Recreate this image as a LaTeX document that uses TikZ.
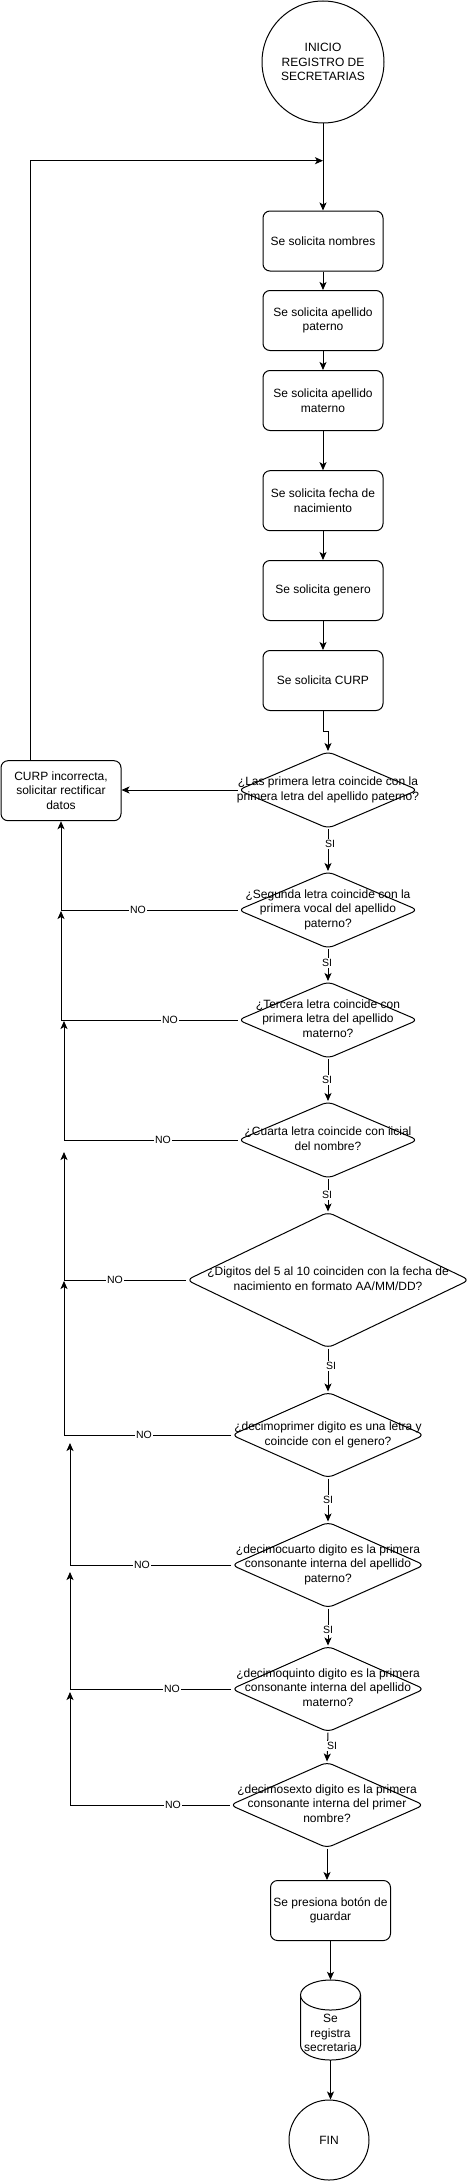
\documentclass[tikz,border=0pt]{standalone}
\usepackage{fontspec}
\setmainfont{Liberation Sans}
\usetikzlibrary{arrows.meta,shapes.geometric}
\begin{document}
\begin{tikzpicture}[x=1pt,y=-1pt,
 every node/.style={font=\fontsize{12}{14.5}\selectfont, text=black},
 box/.style={draw, line width=1pt, rounded corners=7pt, minimum width=120pt, minimum height=60pt, align=center, inner sep=0pt},
 dec/.style={draw, diamond, line width=1pt, rounded corners=6pt, inner sep=0pt},
 term/.style={draw, circle, line width=1pt, align=center, inner sep=0pt},
 lbl/.style={fill=white, inner sep=1pt, font=\fontsize{10.5}{12}\selectfont},
 conn/.style={line width=1pt},
 arr/.style={line width=1pt, -{Stealth[length=8pt,width=7pt,inset=2pt]}},
]
\useasboundingbox (0,0) rectangle (474,2181);
\newcommand{\dtext}[1]{\makebox[0pt]{\begin{tabular}{@{}c@{}}#1\end{tabular}}}

% start and process boxes
\node[term, minimum size=122pt] (ini) at (323,62) {INICIO\\REGISTRO DE\\SECRETARIAS};
\coordinate (jn) at (323,160.7);
\node[box] (b1) at (323,241) {Se solicita nombres};
\node[box] (b2) at (323,320.5) {Se solicita apellido\\paterno};
\node[box] (b3) at (323,400.5) {Se solicita apellido\\materno};
\node[box] (b4) at (323,500.7) {Se solicita fecha de\\nacimiento};
\node[box] (b5) at (323,590.5) {Se solicita genero};
\node[box] (b6) at (323,680.5) {Se solicita CURP};
\node[box] (err) at (61,790.7) {CURP incorrecta,\\solicitar rectificar\\datos};
\coordinate (lp) at (30.7,760.7);

% decisions
\node[dec, minimum width=180pt, minimum height=77pt] (d1) at (328,790) {\dtext{¿Las primera letra coincide con la\\primera letra del apellido paterno?}};
\node[dec, minimum width=180pt, minimum height=77pt] (d2) at (328,910) {\dtext{¿Segunda letra coincide con la\\primera vocal del apellido\\paterno?}};
\node[dec, minimum width=180pt, minimum height=77pt] (d3) at (328,1020) {\dtext{¿Tercera letra coincide con\\primera letra del apellido\\materno?}};
\node[dec, minimum width=180pt, minimum height=77pt] (d4) at (328,1140) {\dtext{¿Cuarta letra coincide con iicial\\del nombre?}};
\node[dec, minimum width=283pt, minimum height=136pt] (d5) at (328,1280) {\dtext{¿Digitos del 5 al 10 coinciden con la fecha de\\nacimiento en formato AA/MM/DD?}};
\node[dec, minimum width=193pt, minimum height=86pt] (d6) at (328,1435) {\dtext{¿decimoprimer digito es una letra y\\coincide con el genero?}};
\node[dec, minimum width=193pt, minimum height=86pt] (d7) at (328,1565) {\dtext{¿decimocuarto digito es la primera\\consonante interna del apellido\\paterno?}};
\node[dec, minimum width=193pt, minimum height=86pt] (d8) at (328,1689) {\dtext{¿decimoquinto digito es la primera\\consonante interna del apellido\\materno?}};
\node[dec, minimum width=194pt, minimum height=86pt] (d9) at (327,1805) {\dtext{¿decimosexto digito es la primera\\consonante interna del primer\\nombre?}};

% end part
\node[box] (g) at (330.5,1910.5) {Se presiona botón de\\guardar};
\node[minimum width=60pt, minimum height=80pt, inner sep=0pt] (cyl) at (330.5,2020) {};
\draw[conn] (300.5,1995) -- (300.5,2045) arc[start angle=180, end angle=360, x radius=30pt, y radius=15pt] -- (360.5,1995);
\draw[conn, fill=white] (330.5,1995) ellipse [x radius=30pt, y radius=15pt];
\node[align=center, inner sep=0pt] (cylt) at (330.5,2033) {Se\\registra\\secretaria};
\node[term, minimum size=80pt] (fin) at (329,2140) {FIN};

% main flow
\draw[arr] (ini) -- (b1);
\draw[arr] (lp) |- (jn);
\draw[arr] (b1) -- (b2);
\draw[arr] (b2) -- (b3);
\draw[arr] (b3) -- (b4);
\draw[arr] (b4) -- (b5);
\draw[arr] (b5) -- (b6);
\draw[arr] (b6.south) -- ++(0,20) -| (d1.north);
\draw[arr] (d1.west) -- (d1.west -| err.east);

\draw[arr] (d1.south) -- (d2.north);
\draw[arr] (d2.south) -- (d3.north);
\draw[arr] (d3.south) -- (d4.north);
\draw[arr] (d4.south) -- (d5.north);
\draw[arr] (d5.south) -- (d6.north);
\draw[arr] (d6.south) -- (d7.north);
\draw[arr] (d7.south) -- (d8.north);
\draw[arr] (d8.south) -- (d9.north);
\draw[arr] (d9.south) -- (d9.south |- g.north);
\draw[arr] (g.south) -- (g.south |- cyl.north);
\draw[arr] (cyl.south) -- (cyl.south |- fin.north);

% NO branches
\coordinate (t3) at (61,911);
\coordinate (t4) at (64,1021);
\coordinate (t5) at (64,1152);
\coordinate (t6) at (64,1281);
\coordinate (t7) at (70,1443);
\coordinate (t8) at (70,1572);
\coordinate (t9) at (70,1692);
\draw[arr] (d2.west) -| (err.south);
\draw[arr] (d3.west) -| (t3);
\draw[arr] (d4.west) -| (t4);
\draw[arr] (d5.west) -| (t5);
\draw[arr] (d6.west) -| (t6);
\draw[arr] (d7.west) -| (t7);
\draw[arr] (d8.west) -| (t8);
\draw[arr] (d9.west) -| (t9);

% labels
\node[lbl] (s1) at (330,844) {SI};
\node[lbl] (s2) at (327,963) {SI};
\node[lbl] (s3) at (327,1080) {SI};
\node[lbl] (s4) at (327,1195) {SI};
\node[lbl] (s5) at (331,1366) {SI};
\node[lbl] (s6) at (328,1500) {SI};
\node[lbl] (s7) at (328,1630) {SI};
\node[lbl] (s8) at (332,1746) {SI};
\node[lbl] (n2) at (138,910) {NO};
\node[lbl] (n3) at (170,1020) {NO};
\node[lbl] (n4) at (163,1140) {NO};
\node[lbl] (n5) at (115,1280) {NO};
\node[lbl] (n6) at (144,1435) {NO};
\node[lbl] (n7) at (142,1565) {NO};
\node[lbl] (n8) at (172,1689) {NO};
\node[lbl] (n9) at (173,1805) {NO};
\end{tikzpicture}
\end{document}
